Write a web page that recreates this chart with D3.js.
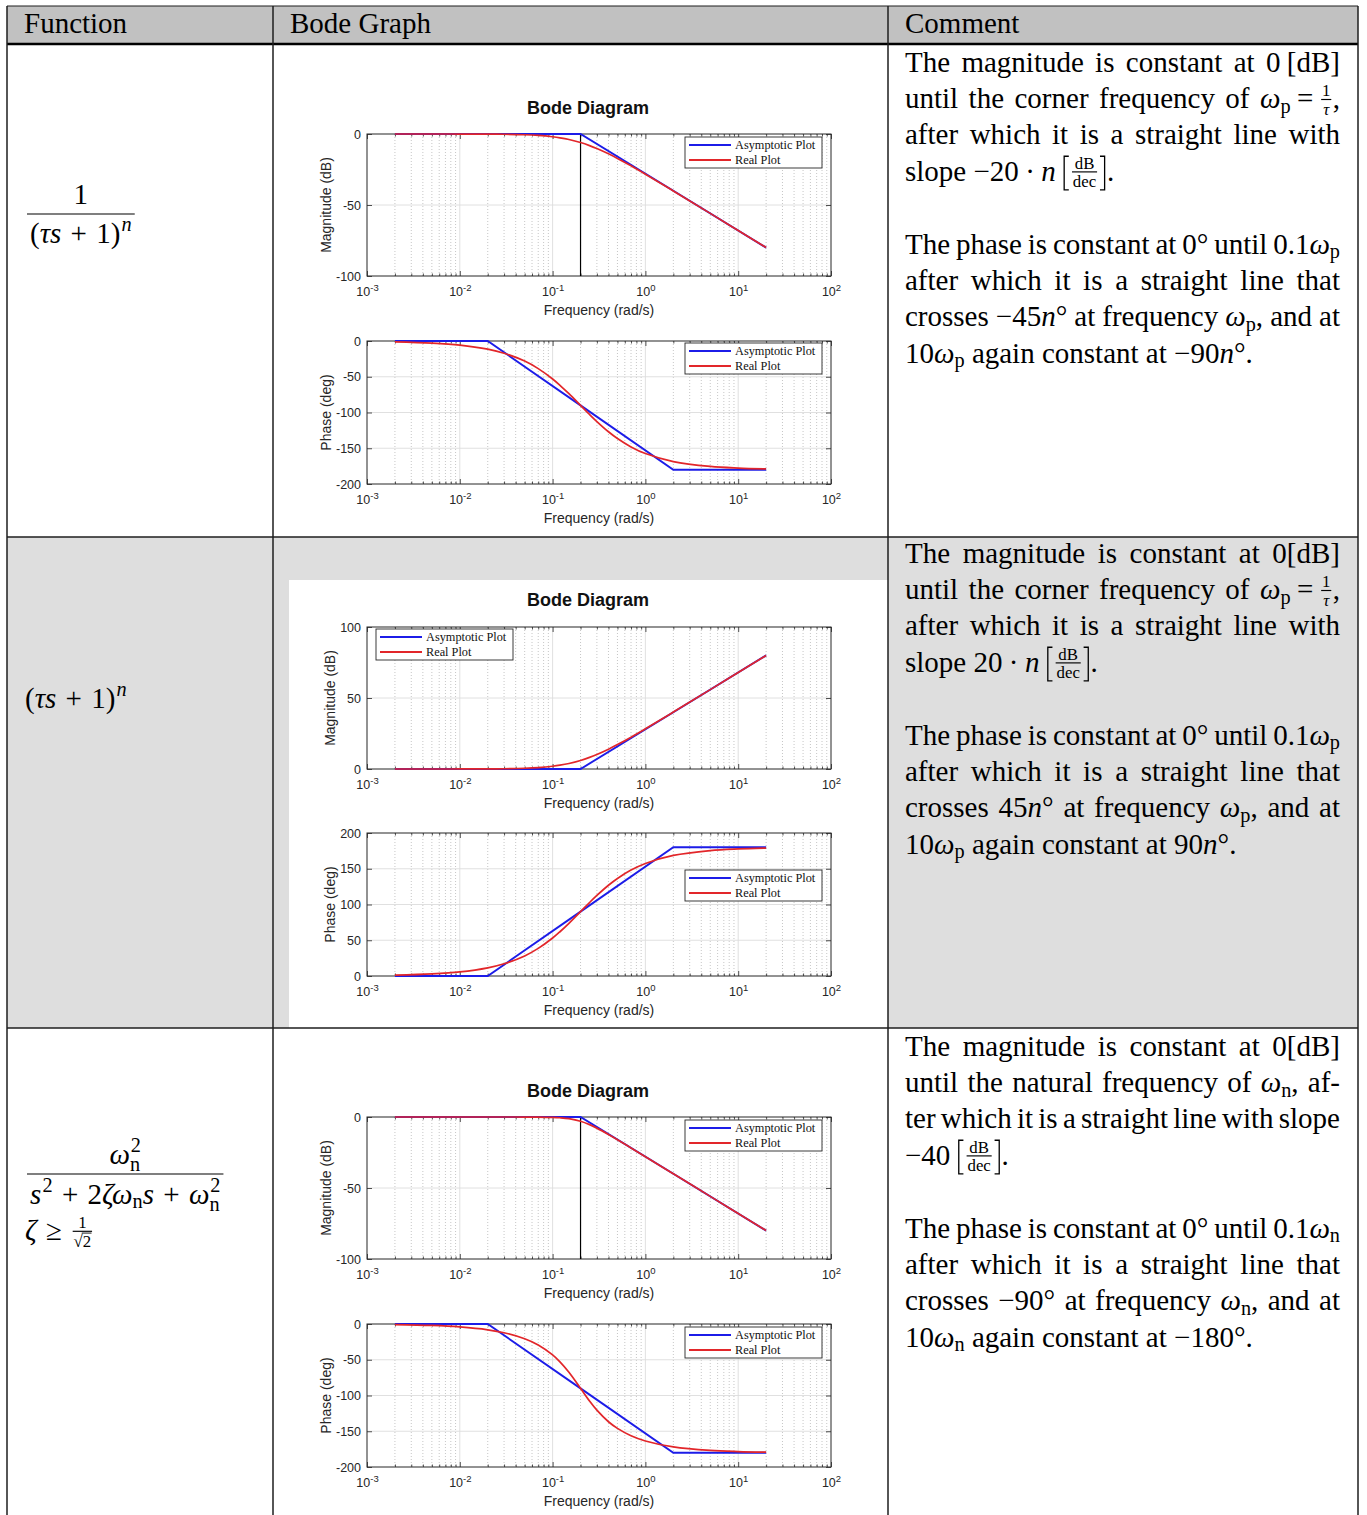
<!DOCTYPE html>
<html>
<head>
<meta charset="utf-8">
<script src="https://cdn.jsdelivr.net/npm/d3@7"></script>
<style>
  body { margin: 0; background: #fff; }
  svg { display: block; }
</style>
</head>
<body>
<svg id="c" width="1367" height="1515"></svg>
<script>
// ---------- data ----------
// sample frequencies (rad/s) of the exact responses
const freq = [0.002, 0.005, 0.01, 0.02, 0.03, 0.05, 0.07, 0.1, 0.12, 0.15, 0.2, 0.25, 0.3, 0.4, 0.5, 0.7, 1, 2, 5, 10, 20];
// break points of the straight-line approximations
const asymFreq = [0.002, 0.02, 0.2, 2, 20];
const cornerFreq = 0.2;

// 1/(tau s + 1)^n
const lagMagReal   = [0, 0, -0.02, -0.09, -0.19, -0.53, -1.0, -1.94, -2.67, -3.88, -6.02, -8.17, -10.24, -13.98, -17.2, -22.4, -28.3, -40.1, -55.9, -68.0, -80.0];
const lagPhaseReal = [-1.1, -2.9, -5.7, -11.4, -17.1, -28.1, -38.6, -53.1, -61.9, -73.7, -90.0, -102.7, -112.6, -126.9, -136.4, -148.1, -157.4, -168.6, -175.4, -177.7, -178.9];
const lagMagAsym   = [0, 0, 0, -40, -80];
const lagPhaseAsym = [0, 0, -90, -180, -180];

// (tau s + 1)^n
const leadMagReal   = [0, 0, 0.02, 0.09, 0.19, 0.53, 1.0, 1.94, 2.67, 3.88, 6.02, 8.17, 10.24, 13.98, 17.2, 22.4, 28.3, 40.1, 55.9, 68.0, 80.0];
const leadPhaseReal = [1.1, 2.9, 5.7, 11.4, 17.1, 28.1, 38.6, 53.1, 61.9, 73.7, 90.0, 102.7, 112.6, 126.9, 136.4, 148.1, 157.4, 168.6, 175.4, 177.7, 178.9];
const leadMagAsym   = [0, 0, 0, 40, 80];
const leadPhaseAsym = [0, 0, 90, 180, 180];

// second order, zeta >= 1/sqrt(2)
const secMagReal   = [0, 0, 0, 0, 0, -0.02, -0.07, -0.26, -0.53, -1.19, -3.01, -5.37, -7.83, -12.3, -16.0, -21.8, -28.0, -40.0, -55.9, -68.0, -80.0];
const secPhaseReal = [-0.8, -2.0, -4.1, -8.1, -12.2, -20.7, -29.4, -43.3, -53.0, -67.6, -90.0, -107.7, -120.5, -136.7, -146.0, -156.3, -163.6, -171.9, -176.8, -178.4, -179.2];
const secMagAsym   = [0, 0, 0, -40, -80];
const secPhaseAsym = [0, 0, -90, -180, -180];

// axis ticks
const decades = [1e-3, 1e-2, 1e-1, 1e0, 1e1, 1e2];
const decadeExp = ["-3", "-2", "-1", "0", "1", "2"];
const magTicksNeg = [-100, -50, 0];
const magTicksPos = [0, 50, 100];
const phaseTicksNeg = [-200, -150, -100, -50, 0];
const phaseTicksPos = [0, 50, 100, 150, 200];
const legendLabels = ["Asymptotic Plot", "Real Plot"];
const headers = ["Function", "Bode Graph", "Comment"];

// formulas ( *..* italic, _{} sub, ^{} sup, ~ math space, #f{}{} fraction, #s{} root )
const formulaLag = { num: "1", den: "(*τs*~+~1)^{*n*}" };
const formulaLead = "(*τs*~+~1)^{*n*}";
const formulaSecond = { num: "*ω*^{2}_{n}", den: "*s*^{2}~+~2*ζω*_{n}*s*~+~*ω*^{2}_{n}", cond: "*ζ*~≥~#f{1}{#s{2}}" };

const comments = [
  { p1: ["The magnitude is constant at 0~[dB]",
         "until the corner frequency of *ω*_{p}~=~#f{1}{*τ*},",
         "after which it is a straight line with",
         "slope −20~·~*n*~#[#f{dB}{dec}#]."],
    p2: ["The phase is constant at 0° until 0.1*ω*_{p}",
         "after which it is a straight line that",
         "crosses −45*n*° at frequency *ω*_{p}, and at",
         "10*ω*_{p} again constant at −90*n*°."] },
  { p1: ["The magnitude is constant at 0[dB]",
         "until the corner frequency of *ω*_{p}~=~#f{1}{*τ*},",
         "after which it is a straight line with",
         "slope 20~·~*n*~#[#f{dB}{dec}#]."],
    p2: ["The phase is constant at 0° until 0.1*ω*_{p}",
         "after which it is a straight line that",
         "crosses 45*n*° at frequency *ω*_{p}, and at",
         "10*ω*_{p} again constant at 90*n*°."] },
  { p1: ["The magnitude is constant at 0[dB]",
         "until the natural frequency of *ω*_{n}, af-",
         "ter which it is a straight line with slope",
         "−40~#[#f{dB}{dec}#]."],
    p2: ["The phase is constant at 0° until 0.1*ω*_{n}",
         "after which it is a straight line that",
         "crosses −90° at frequency *ω*_{n}, and at",
         "10*ω*_{n} again constant at −180°."] }
];

// ---------- style ----------
const SERIF = '"Liberation Serif","Times New Roman",serif';
const SANS = '"Liberation Sans",Arial,Helvetica,sans-serif';
const FS = 29;
const BLUE = "#1c1ce8";
const RED = "#e2262a";
const AX = "#262626";

const svg = d3.select("#c");

// ---------- table frame ----------
const X0 = 7, C1 = 273, C2 = 888, X3 = 1358;
const Y0 = 6, YH = 44, R1 = 537, R2 = 1028, YB = 1515;

svg.append("rect").attr("x", X0).attr("y", Y0).attr("width", X3 - X0).attr("height", YH - Y0).attr("fill", "#c1c1c1");
svg.append("rect").attr("x", X0).attr("y", R1).attr("width", X3 - X0).attr("height", R2 - R1).attr("fill", "#dedede");
svg.append("rect").attr("x", 289).attr("y", 580).attr("width", C2 - 289).attr("height", R2 - 580).attr("fill", "#fff");

// ---------- math text engine ----------
function grab(str, i) { // str[i] === '{'
  let depth = 0;
  for (let j = i; j < str.length; j++) {
    if (str[j] === "{") depth++;
    else if (str[j] === "}") { depth--; if (depth === 0) return [str.slice(i + 1, j), j + 1]; }
  }
  return [str.slice(i + 1), str.length];
}

function parseMath(str) {
  const out = [];
  let it = false, buf = "", i = 0;
  const flush = () => { if (buf) { out.push({ t: buf, it }); buf = ""; } };
  while (i < str.length) {
    const c = str[i];
    if (c === "*") { flush(); it = !it; i++; }
    else if (c === "~") { flush(); out.push({ sp: 1 }); i++; }
    else if ((c === "_" || c === "^") && str[i + 1] === "{") {
      flush();
      const [inner, nx] = grab(str, i + 1);
      out.push({ pos: c === "_" ? "sub" : "sup", sub: parseMath(inner) });
      i = nx;
    }
    else if (c === "#" && str[i + 1] === "f") {
      flush();
      const [a, n1] = grab(str, i + 2);
      const [b, n2] = grab(str, n1);
      out.push({ frac: [parseMath(a), parseMath(b)] });
      i = n2;
    }
    else if (c === "#" && str[i + 1] === "s") {
      flush();
      const [a, n1] = grab(str, i + 2);
      out.push({ sqrt: parseMath(a) });
      i = n1;
    }
    else if (c === "#" && (str[i + 1] === "[" || str[i + 1] === "]")) {
      flush(); out.push({ big: str[i + 1] }); i += 2;
    }
    else { buf += c; i++; }
  }
  flush();
  return out;
}

// draws tokens starting at (x, y baseline); returns end x.
// sp = width of a math space in em
function renderRuns(g, toks, x, y, fs, sp) {
  sp = sp || 0.22;
  for (let k = 0; k < toks.length; k++) {
    const tk = toks[k];
    if (tk.sp !== undefined) { x += sp * fs; continue; }
    if (tk.big) {
      const t = y - 0.84 * fs, b = y + 0.32 * fs, arm = 0.16 * fs;
      const vx = tk.big === "[" ? x + 0.07 * fs : x + 0.21 * fs;
      const hx = tk.big === "[" ? vx + arm : vx - arm;
      g.append("path")
        .attr("d", `M${hx},${t}H${vx}V${b}H${hx}`)
        .attr("fill", "none").attr("stroke", "#000").attr("stroke-width", Math.max(1, fs * 0.045));
      x += 0.29 * fs;
      continue;
    }
    if (tk.frac) {
      const s = fs * 0.58, barY = y - 0.3 * fs;
      const gn = g.append("g"), gd = g.append("g");
      const wn = renderRuns(gn, tk.frac[0], 0, 0, s, sp);
      const wd = renderRuns(gd, tk.frac[1], 0, 0, s, sp);
      const w = Math.max(wn, wd) + 0.16 * fs;
      gn.attr("transform", `translate(${x + (w - wn) / 2},${barY - 0.2 * s})`);
      gd.attr("transform", `translate(${x + (w - wd) / 2},${barY + 0.905 * s})`);
      g.append("line").attr("x1", x + 0.05 * fs).attr("x2", x + w - 0.05 * fs)
        .attr("y1", barY).attr("y2", barY)
        .attr("stroke", "#000").attr("stroke-width", Math.max(0.9, fs * 0.04));
      x += w;
      continue;
    }
    if (tk.sqrt) {
      const t = g.append("text").attr("x", x).attr("y", y).attr("font-size", fs).text("√");
      const w1 = t.node().getComputedTextLength();
      const x2 = renderRuns(g, tk.sqrt, x + w1, y, fs, sp);
      const oy = y - 0.8 * fs;
      g.append("line").attr("x1", x + w1 - 0.06 * fs).attr("x2", x2 + 0.02 * fs)
        .attr("y1", oy).attr("y2", oy).attr("stroke", "#000").attr("stroke-width", Math.max(0.9, fs * 0.05));
      x = x2;
      continue;
    }
    if (tk.pos) {
      const s = fs * 0.7;
      const nx = toks[k + 1];
      if (tk.pos === "sup" && nx && nx.pos === "sub") {
        const xa = renderRuns(g, tk.sub, x + 0.03 * fs, y - 0.42 * fs, s, sp);
        const xb = renderRuns(g, nx.sub, x, y + 0.24 * fs, s, sp);
        x = Math.max(xa, xb);
        k++;
        continue;
      }
      const sup = tk.pos === "sup";
      x = renderRuns(g, tk.sub, x + (sup ? 0.04 * fs : 0), y + (sup ? -0.42 : 0.15) * fs, s, sp);
      continue;
    }
    const t = g.append("text").attr("x", x).attr("y", y).attr("font-size", fs)
      .attr("font-style", tk.it ? "italic" : null).text(tk.t);
    x += t.node().getComputedTextLength();
  }
  return x;
}

// justified paragraph lines in the comment column
function setLines(lines, x0, width, baseline0, step) {
  lines.forEach((ln, li) => {
    const g = svg.append("g").attr("font-family", SERIF).attr("fill", "#000");
    const parts = ln.split(" ").map(w => {
      const wg = g.append("g");
      const wd = renderRuns(wg, parseMath(w), 0, 0, FS, 0.22);
      return { wg, wd };
    });
    const total = d3.sum(parts, p => p.wd);
    const last = li === lines.length - 1;
    const gap = (!last && parts.length > 1) ? (width - total) / (parts.length - 1) : 0.25 * FS;
    let x = x0;
    const yb = baseline0 + li * step;
    parts.forEach(p => { p.wg.attr("transform", `translate(${x},${yb})`); x += p.wd + gap; });
  });
}

// ---------- header ----------
const headG = svg.append("g").attr("font-family", SERIF).attr("font-size", FS).attr("fill", "#000");
headG.selectAll("text").data(headers).join("text")
  .attr("x", (d, i) => [24, 290, 905][i]).attr("y", 33).text(d => d);

// ---------- function column ----------
const FORMULA_SP = 0.32;
function displayFraction(numStr, denStr, x0, numY, barY, denY) {
  const g = svg.append("g").attr("font-family", SERIF).attr("fill", "#000");
  const gd = g.append("g");
  const wd = renderRuns(gd, parseMath(denStr), 0, 0, FS, FORMULA_SP);
  gd.attr("transform", `translate(${x0 + 3},${denY})`);
  const gn = g.append("g");
  const wn = renderRuns(gn, parseMath(numStr), 0, 0, FS, FORMULA_SP);
  gn.attr("transform", `translate(${x0 + 3 + (wd - wn) / 2},${numY})`);
  g.append("line").attr("x1", x0).attr("x2", x0 + wd + 6).attr("y1", barY).attr("y2", barY)
    .attr("stroke", "#000").attr("stroke-width", 1.2);
}
displayFraction(formulaLag.num, formulaLag.den, 27, 204, 214, 243);
{
  const g = svg.append("g").attr("font-family", SERIF).attr("fill", "#000");
  renderRuns(g, parseMath(formulaLead), 25, 708, FS, FORMULA_SP);
}
displayFraction(formulaSecond.num, formulaSecond.den, 27, 1164, 1174, 1204);
{
  const g = svg.append("g").attr("font-family", SERIF).attr("fill", "#000");
  renderRuns(g, parseMath(formulaSecond.cond), 25, 1240, FS, FORMULA_SP);
}

// ---------- comment column ----------
const commentTops = [72, 563, 1056];
comments.forEach((c, i) => {
  setLines(c.p1, 905, 435, commentTops[i], 36.2);
  setLines(c.p2, 905, 435, commentTops[i] + 182, 36.2);
});

// ---------- Bode panels ----------
const PX0 = 367, PX1 = 831;
const minorFreqs = [];
for (let e = -3; e < 2; e++) for (let m = 2; m <= 9; m++) minorFreqs.push(+(m * Math.pow(10, e)).toPrecision(3));

function legend(g, lx, ly) {
  const lg = g.append("g").attr("transform", `translate(${lx},${ly})`);
  lg.append("rect").attr("width", 137).attr("height", 31).attr("fill", "#fff").attr("stroke", AX).attr("stroke-width", 0.9);
  const rows = lg.selectAll("g").data(legendLabels).join("g")
    .attr("transform", (d, i) => `translate(0,${8 + i * 15})`);
  rows.append("line").attr("x1", 4).attr("x2", 46).attr("stroke", (d, i) => i ? RED : BLUE).attr("stroke-width", 1.8);
  rows.append("text").attr("x", 50).attr("y", 4).attr("font-family", SERIF).attr("font-size", 12.3)
    .attr("fill", "#111").text(d => d);
}

function panel(o) {
  const g = svg.append("g");
  const x = d3.scaleLog().domain([1e-3, 1e2]).range([PX0, PX1]);
  const y = d3.scaleLinear().domain(o.domain).range([o.bottom, o.top]);

  g.append("rect").attr("x", PX0).attr("y", o.top).attr("width", PX1 - PX0).attr("height", o.bottom - o.top).attr("fill", "#fff");

  // grid
  g.append("g").selectAll("line").data(minorFreqs).join("line")
    .attr("x1", d => x(d)).attr("x2", d => x(d)).attr("y1", o.top).attr("y2", o.bottom)
    .attr("stroke", "#b8b8b8").attr("stroke-width", 0.8).attr("stroke-dasharray", "1,2");
  g.append("g").selectAll("line").data(decades.slice(1, -1)).join("line")
    .attr("x1", d => x(d)).attr("x2", d => x(d)).attr("y1", o.top).attr("y2", o.bottom)
    .attr("stroke", "#dcdcdc").attr("stroke-width", 0.9);
  g.append("g").selectAll("line").data(o.ticks.slice(1, -1)).join("line")
    .attr("x1", PX0).attr("x2", PX1).attr("y1", d => y(d)).attr("y2", d => y(d))
    .attr("stroke", "#dcdcdc").attr("stroke-width", 0.9);

  // axes
  const axes = [];
  axes.push(g.append("g").attr("transform", `translate(${PX0},0)`)
    .call(d3.axisLeft(y).tickValues(o.ticks).tickSize(-5).tickPadding(6).tickFormat(d => String(d))));
  axes.push(g.append("g").attr("transform", `translate(${PX1},0)`)
    .call(d3.axisRight(y).tickValues(o.ticks).tickSize(-5).tickFormat("")));
  const bottomAx = g.append("g").attr("transform", `translate(0,${o.bottom})`)
    .call(d3.axisBottom(x).tickValues(decades).tickSize(-5).tickPadding(11).tickFormat(() => "10"));
  axes.push(bottomAx);
  axes.push(g.append("g").attr("transform", `translate(0,${o.bottom})`)
    .call(d3.axisBottom(x).tickValues(minorFreqs).tickSize(-2.5).tickFormat("")));
  axes.push(g.append("g").attr("transform", `translate(0,${o.top})`)
    .call(d3.axisTop(x).tickValues(decades).tickSize(-5).tickFormat("")));
  axes.push(g.append("g").attr("transform", `translate(0,${o.top})`)
    .call(d3.axisTop(x).tickValues(minorFreqs).tickSize(-2.5).tickFormat("")));
  axes.forEach(a => {
    a.attr("color", AX).attr("font-family", SANS).attr("font-size", 12.5);
    a.select(".domain").remove();
    a.selectAll("line").attr("stroke-width", 0.8);
  });
  bottomAx.selectAll("text").each(function (d, i) {
    d3.select(this).append("tspan").attr("dy", "-0.5em").attr("font-size", 9.5).text(decadeExp[i]);
  });

  g.append("rect").attr("x", PX0).attr("y", o.top).attr("width", PX1 - PX0).attr("height", o.bottom - o.top)
    .attr("fill", "none").attr("stroke", AX).attr("stroke-width", 1);

  // labels
  g.append("text").attr("x", (PX0 + PX1) / 2).attr("y", o.bottom + 39).attr("text-anchor", "middle")
    .attr("font-family", SANS).attr("font-size", 14).attr("fill", AX).text("Frequency (rad/s)");
  g.append("text").attr("transform", `translate(${o.labelX},${(o.top + o.bottom) / 2}) rotate(-90)`)
    .attr("text-anchor", "middle").attr("dy", "0.35em")
    .attr("font-family", SANS).attr("font-size", 14).attr("fill", AX).text(o.label);

  if (o.corner) {
    g.append("line").attr("x1", x(cornerFreq)).attr("x2", x(cornerFreq)).attr("y1", o.top).attr("y2", o.bottom)
      .attr("stroke", "#000").attr("stroke-width", 1.2);
  }

  const straight = d3.line().x(d => x(d[0])).y(d => y(d[1]));
  const smooth = d3.line().x(d => x(d[0])).y(d => y(d[1])).curve(d3.curveCatmullRom);
  g.append("path").attr("d", straight(asymFreq.map((f, i) => [f, o.asym[i]])))
    .attr("fill", "none").attr("stroke", BLUE).attr("stroke-width", 1.9);
  g.append("path").attr("d", smooth(freq.map((f, i) => [f, o.real[i]])))
    .attr("fill", "none").attr("stroke", RED).attr("stroke-width", 1.7);

  legend(g, o.legend[0], o.legend[1]);
}

const rows = [
  { title: 114,
    mag:   { top: 134, bottom: 276, domain: [-100, 0], ticks: magTicksNeg, real: lagMagReal, asym: lagMagAsym, corner: true, labelX: 326, legend: [685, 137] },
    phase: { top: 341, bottom: 484, domain: [-200, 0], ticks: phaseTicksNeg, real: lagPhaseReal, asym: lagPhaseAsym, corner: false, labelX: 326, legend: [685, 343] } },
  { title: 606,
    mag:   { top: 627, bottom: 769, domain: [0, 100], ticks: magTicksPos, real: leadMagReal, asym: leadMagAsym, corner: false, labelX: 330, legend: [376, 629] },
    phase: { top: 833, bottom: 976, domain: [0, 200], ticks: phaseTicksPos, real: leadPhaseReal, asym: leadPhaseAsym, corner: false, labelX: 330, legend: [685, 870] } },
  { title: 1097,
    mag:   { top: 1117, bottom: 1259, domain: [-100, 0], ticks: magTicksNeg, real: secMagReal, asym: secMagAsym, corner: true, labelX: 326, legend: [685, 1120] },
    phase: { top: 1324, bottom: 1467, domain: [-200, 0], ticks: phaseTicksNeg, real: secPhaseReal, asym: secPhaseAsym, corner: false, labelX: 326, legend: [685, 1327] } }
];

rows.forEach(r => {
  svg.append("text").attr("x", 588).attr("y", r.title).attr("text-anchor", "middle")
    .attr("font-family", SANS).attr("font-weight", "bold").attr("font-size", 18).attr("fill", "#111").text("Bode Diagram");
  panel(Object.assign({ label: "Magnitude (dB)" }, r.mag));
  panel(Object.assign({ label: "Phase (deg)" }, r.phase));
});

// ---------- table rules ----------
const rules = svg.append("g").attr("stroke", "#1e1e1e");
rules.append("line").attr("x1", X0).attr("x2", X3).attr("y1", Y0).attr("y2", Y0).attr("stroke-width", 1.2);
rules.append("line").attr("x1", X0).attr("x2", X3).attr("y1", YH).attr("y2", YH).attr("stroke-width", 2.6).attr("stroke", "#000");
[R1, R2].forEach(v => rules.append("line").attr("x1", X0).attr("x2", X3).attr("y1", v).attr("y2", v).attr("stroke-width", 1.5));
[X0, C1, C2, X3].forEach(v => rules.append("line").attr("x1", v).attr("x2", v).attr("y1", Y0).attr("y2", YB).attr("stroke-width", 1.5));
</script>
</body>
</html>
